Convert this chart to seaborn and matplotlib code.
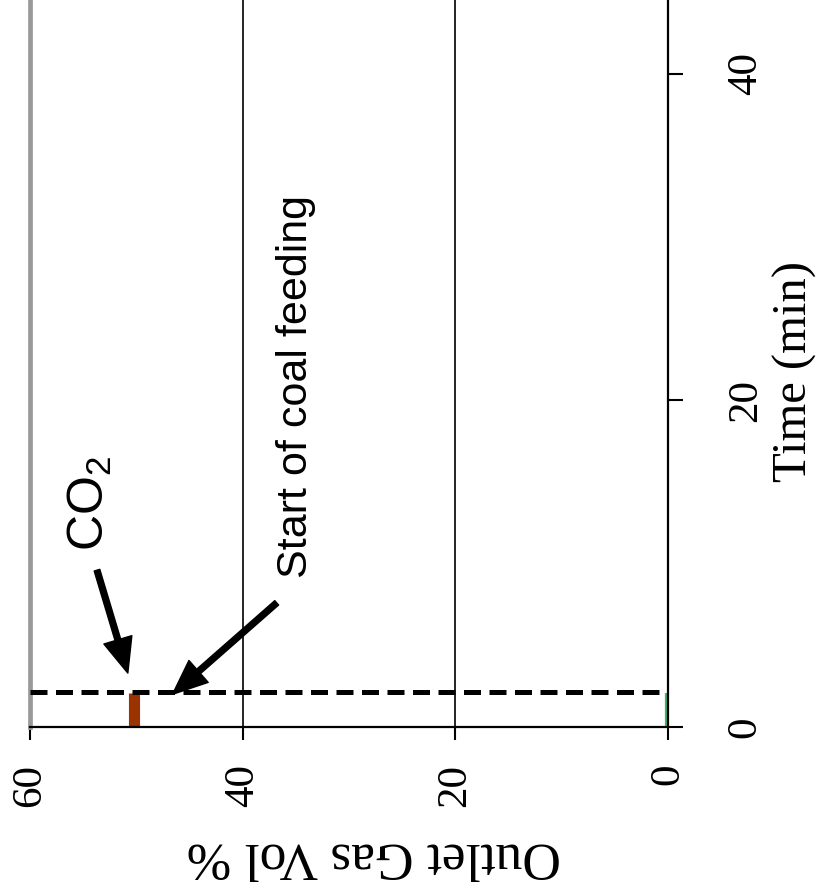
import matplotlib
matplotlib.use("Agg")
import matplotlib.pyplot as plt
import seaborn as sns
import pandas as pd

# Outlet gas composition during the first minutes of the run
time_min = [0.0, 2.1]
co2_vol = [50.2, 50.2]
other_vol = [0.2, 0.2]
coal_feed_start = 2.14

vol_ticks = [60, 40, 20, 0]
time_ticks = [0, 20, 40]

sns.set_theme(style="white")
plt.rcParams["font.family"] = ["Liberation Serif", "DejaVu Serif"]
plt.rcParams["mathtext.fontset"] = "custom"
plt.rcParams["mathtext.rm"] = "Liberation Sans"
plt.rcParams["mathtext.default"] = "regular"
plt.rcParams["text.color"] = "black"
plt.rcParams["xtick.color"] = "black"
plt.rcParams["ytick.color"] = "black"
plt.rcParams["lines.solid_capstyle"] = "butt"

W, H = 819, 896
fig = plt.figure(figsize=(W / 100, H / 100), dpi=100)
ax = fig.add_axes([30 / W, 1 - 727 / H, (668 - 30) / W, 727 / H])

df = pd.DataFrame({"time": time_min * 2,
                   "vol": co2_vol + other_vol,
                   "gas": ["CO2"] * 2 + ["other"] * 2})
sns.lineplot(data=df[df.gas == "CO2"], x="vol", y="time", orient="y",
             sort=False, color="#9a3300", lw=8, solid_capstyle="butt", ax=ax)
sns.lineplot(data=df[df.gas == "other"], x="vol", y="time", orient="y",
             sort=False, color="#3cb371", lw=1.6, solid_capstyle="butt", ax=ax)

ax.set_xlim(60, 0)
ax.set_ylim(0, 44.5)

# gridlines along vol %
for v in [40, 20]:
    ax.axvline(v, color="black", lw=1.2, zorder=1)

ax.axhline(coal_feed_start, color="black", lw=3.6, ls=(0, (3.4, 1.7)), zorder=3)

ax.set_xticks(vol_ticks)
ax.set_xticklabels([str(v) for v in vol_ticks], rotation=90, fontsize=31)
ax.set_yticks(time_ticks)
ax.yaxis.tick_right()
ax.set_yticklabels([str(t) for t in time_ticks], rotation=90, fontsize=31,
                   va="center")
ax.tick_params(axis="x", direction="out", length=9.5, width=1.5, pad=17,
               bottom=True, color="black", labelcolor="black")
ax.tick_params(axis="y", direction="out", length=11, width=1.5, pad=31,
               right=True, left=False, color="black", labelcolor="black")
ax.set_xlabel("")
ax.set_ylabel("")

for side in ["bottom", "right"]:
    ax.spines[side].set_color("black")
    ax.spines[side].set_linewidth(1.6)
ax.spines["top"].set_visible(False)
ax.spines["left"].set_color("#999999")
ax.spines["left"].set_linewidth(3.4)

fig.text(795 / W, 1 - 372 / H, "Time (min)", rotation=90, ha="center",
         va="center", fontsize=35, color="black")
fig.text(374 / W, 1 - 856 / H, "Outlet Gas Vol %", rotation=180, ha="center",
         va="center", fontsize=38.5, color="black")

# annotations
fig.text(296 / W, 1 - 386 / H, "Start of coal feeding", rotation=90,
         ha="center", va="center", fontsize=31, family="Liberation Sans",
         color="black")
fig.text(90 / W, 1 - 503 / H, "CO$_2$", rotation=90, ha="center",
         va="center", fontsize=36, family="Liberation Sans", color="black")

arrow_kw = dict(facecolor="black", edgecolor="black", width=4.2,
                headwidth=21, headlength=25, shrink=0)
ax.annotate("", xy=(50.8, 3.3), xytext=(53.7, 9.6), arrowprops=arrow_kw)
ax.annotate("", xy=(46.6, 2.0), xytext=(36.8, 7.6), arrowprops=arrow_kw)

fig.savefig("out.png", dpi=100)
